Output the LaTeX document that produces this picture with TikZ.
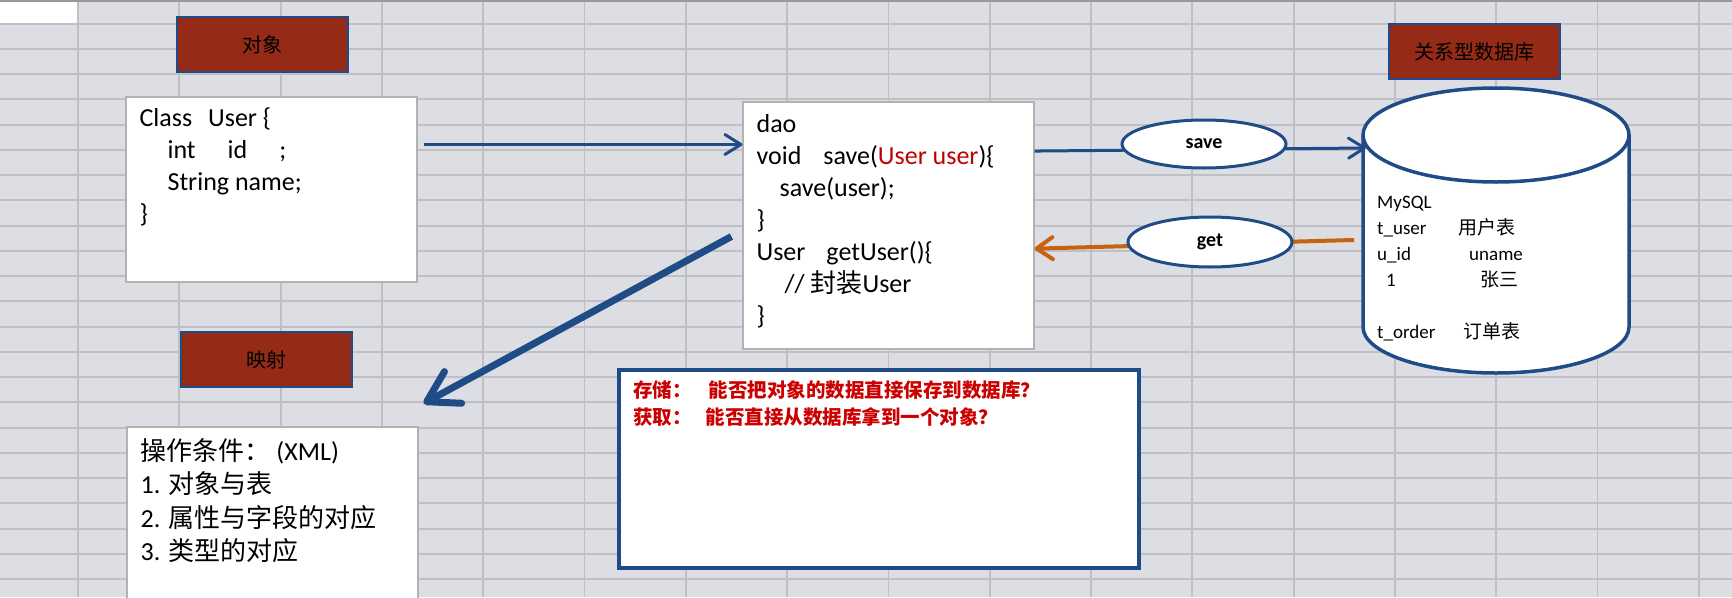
\documentclass[tikz,border=0pt]{standalone}
\usepackage{fontspec}
\setmainfont{Carlito}
\newfontfamily\cjk{Noto Sans CJK SC}
\usetikzlibrary{arrows.meta, positioning, shapes.geometric}

\definecolor{sheetbg}{RGB}{221,222,227}
\definecolor{sheetline}{RGB}{190,192,198}
\definecolor{navy}{RGB}{31,75,135}
\definecolor{brick}{RGB}{149,42,22}
\definecolor{amber}{RGB}{198,98,18}
\definecolor{codered}{RGB}{192,0,0}
\definecolor{askred}{RGB}{204,0,0}

\begin{document}
\begin{tikzpicture}[
x=1pt, y=-1pt,
titlebox/.style={rectangle, draw=navy, line width=2.5pt, fill=brick, minimum width=171pt, minimum height=55pt, inner sep=0pt, font=\cjk\fontsize{20}{24}\selectfont, text=black},
sheetbox/.style={rectangle, draw=black!30, line width=1.2pt, fill=white, inner sep=0pt},
codetext/.style={align=left, inner sep=0pt, font=\fontsize{26}{32}\selectfont},
ovalbox/.style={ellipse, draw=navy, line width=3pt, fill=white, minimum width=164pt, minimum height=48pt, inner sep=0pt, font=\bfseries\fontsize{20}{24}\selectfont},
arrow/.style={-{Straight Barb[length=16pt, width=20pt, round]}, navy, line width=3pt},
bigarrow/.style={-{Straight Barb[length=30pt, width=36pt, round]}, navy, line width=7pt},
getarrow/.style={-{Straight Barb[length=16pt, width=22pt, round]}, amber, line width=4pt}
]
\useasboundingbox (0,0) rectangle (1732,597);
\clip (0,0) rectangle (1732,597);

% spreadsheet background
\fill[sheetbg] (0,0) rectangle (1732,597);
\foreach \c in {0,...,16}
  \draw[sheetline, line width=1.8pt] ({78+101.3*\c},0) -- ({78+101.3*\c},597);
\foreach \r in {0,...,22}
  \draw[sheetline, line width=1.8pt] (0,{23.6+25.25*\r}) -- (1732,{23.6+25.25*\r});
\fill[white] (0,2) rectangle (77,22.5);
\draw[black!40, line width=2pt] (0,1) -- (1732,1);

% titles
\node[titlebox] (obj) at (262.5,44.5) {对象};
\node[titlebox] (map) at (266.5,359.5) {映射};
\node[titlebox] (rdb) at (1474.5,51.5) {关系型数据库};

% class
\node[sheetbox, minimum width=291pt, minimum height=185pt] (cls) at (271.5,189.5) {};
\node[codetext, below right=11pt and 14pt of cls.north west] (clstext) {Class\hspace{16pt}User \{\\
\hspace*{28pt}int\hspace{32pt}id\hspace{32pt};\\
\hspace*{28pt}String name;\\
\}};

% dao
\node[sheetbox, minimum width=291pt, minimum height=247pt] (dao) at (888.5,225.5) {};
\node[codetext, below right=13pt and 14pt of dao.north west] (daotext) {dao\\
void\hspace{22pt}save(\textcolor{codered}{User user})\{\\
\hspace*{23pt}save(user);\\
\}\\
User\hspace{21pt}getUser()\{\\
\hspace*{28pt}// {\cjk 封装}User\\
\}};

% mapping
\node[sheetbox, minimum width=291pt, minimum height=193pt] (xml) at (272.5,523.5) {};
\node[codetext, font=\fontsize{26}{33.3}\selectfont, below right=12pt and 14pt of xml.north west] (xmltext) {{\cjk 操作条件：} (XML)\\
1. {\cjk 对象与表}\\
2. {\cjk 属性与字段的对应}\\
3. {\cjk 类型的对应}};

% questions
\node[rectangle, draw=navy, line width=4pt, fill=white, minimum width=520pt, minimum height=198pt] (ask) at (879,469) {};
\node[codetext, font=\cjk\bfseries\fontsize{19.5}{27}\selectfont, text=askred, below right=12pt and 16pt of ask.north west] (asktext) {存储：\hspace{17pt}能否把对象的数据直接保存到数据库？\\
获取：\hspace{14pt}能否直接从数据库拿到一个对象？};

% database
\filldraw[fill=white, draw=navy, line width=3.5pt]
  (1363,135) -- (1363,327) arc[start angle=180, end angle=0, x radius=133, y radius=46]
  -- (1629,135) arc[start angle=0, end angle=-180, x radius=133, y radius=47] -- cycle;
\draw[navy, line width=3.5pt] (1363,135) arc[start angle=180, end angle=0, x radius=133, y radius=47];
\node[codetext, font=\fontsize{19}{26}\selectfont, anchor=north west] (dbtext) at (1377,196) {MySQL\\
\makebox[81pt][l]{t\_user}{\cjk 用户表}\\
\makebox[92pt][l]{u\_id}uname\\
\makebox[103pt][l]{\hspace*{9pt}1}{\cjk 张三}\\[26pt]
\makebox[86pt][l]{t\_order}{\cjk 订单表}};
\coordinate (dbsave) at (1366,148);
\coordinate (dbget) at (1354,240);

% connectors
\draw[arrow, shorten <=6pt] (cls.east |- dao.151) -- (dao.151);
\draw[bigarrow] ([shift={(-11pt,-11pt)}]dao.west) -- ([shift={(5pt,23pt)}]xml.north east);
\draw[arrow] (dao.27) -- (dbsave);
\draw[getarrow] (dbget) -- (dao.351);

\node[ovalbox] (save) at (1204,144) {save};
\node[ovalbox, minimum height=50pt] (get) at (1210,242) {get};

\end{tikzpicture}
\end{document}
